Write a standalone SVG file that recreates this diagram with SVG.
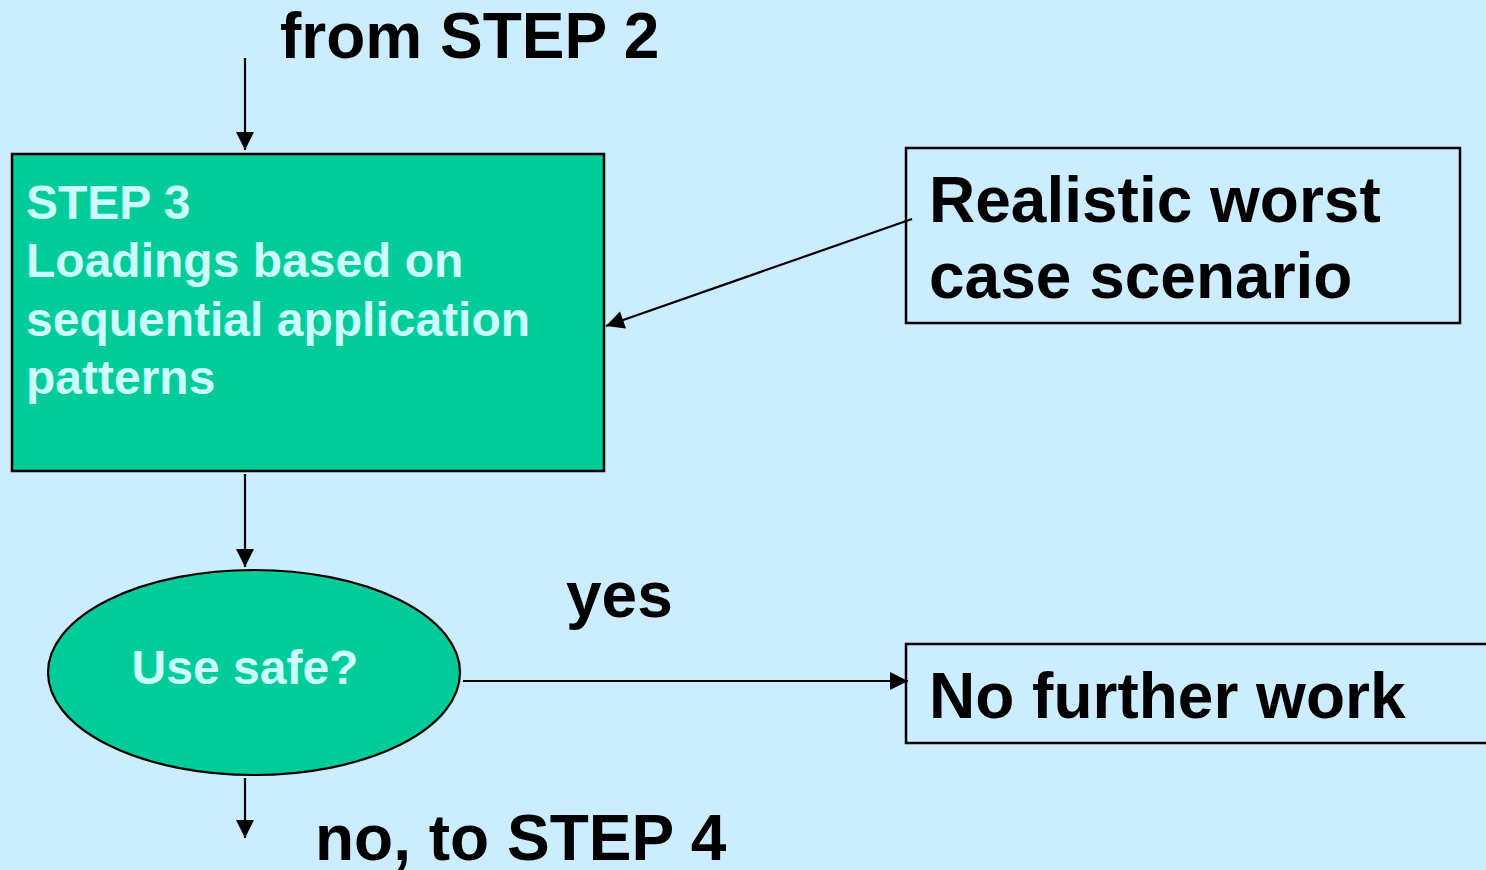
<svg xmlns="http://www.w3.org/2000/svg" width="1486" height="870" viewBox="0 0 1486 870">
<defs>
<marker id="ah" viewBox="0 0 10 10" refX="10" refY="5" markerWidth="20" markerHeight="18" markerUnits="userSpaceOnUse" orient="auto" overflow="visible">
<path d="M0,0 L10,5 L0,10 Z" fill="#000"/>
</marker>
<style>
.big{font-family:"Liberation Sans",Arial,sans-serif;font-weight:bold;font-size:64px;fill:#000}
.lt{font-family:"Liberation Sans",Arial,sans-serif;font-weight:bold;font-size:48px;fill:#CCFFFF}
.con{stroke:#000;stroke-width:2.2;fill:none}
</style>
</defs>
<rect width="1486" height="870" fill="#CCECFF"/>
<g id="connectors">
<line class="con" x1="245" y1="58" x2="245" y2="150" marker-end="url(#ah)"/>
<line class="con" x1="912" y1="219" x2="606" y2="326" marker-end="url(#ah)"/>
<line class="con" x1="245" y1="474" x2="245" y2="567" marker-end="url(#ah)"/>
<line class="con" x1="463" y1="681" x2="908" y2="681" marker-end="url(#ah)"/>
<line class="con" x1="245" y1="778" x2="245" y2="838" marker-end="url(#ah)"/>
</g>
<g id="label-from"><text class="big" x="280" y="58">from STEP 2</text></g>
<g id="step3">
<rect x="12" y="154" width="592" height="317" fill="#00CC99" stroke="#000" stroke-width="2.5"/>
<text class="lt" x="26" y="219">STEP 3</text>
<text class="lt" x="26" y="277">Loadings based on</text>
<text class="lt" x="26" y="336">sequential application</text>
<text class="lt" x="26" y="394">patterns</text>
</g>
<g id="worst">
<rect x="906" y="148" width="554" height="175" fill="none" stroke="#000" stroke-width="2.5"/>
<text class="big" x="929" y="222">Realistic worst</text>
<text class="big" x="929" y="298">case scenario</text>
</g>
<g id="usesafe">
<ellipse cx="254" cy="672.5" rx="206" ry="102.5" fill="#00CC99" stroke="#000" stroke-width="2.2"/>
<text class="lt" x="245" y="684" text-anchor="middle">Use safe?</text>
</g>
<g id="label-yes"><text class="big" x="566" y="617">yes</text></g>
<g id="nofurther">
<rect x="906" y="644" width="600" height="99" fill="none" stroke="#000" stroke-width="2.5"/>
<text class="big" x="929" y="718">No further work</text>
</g>
<g id="label-no"><text class="big" x="315" y="860">no, to STEP 4</text></g>
</svg>
